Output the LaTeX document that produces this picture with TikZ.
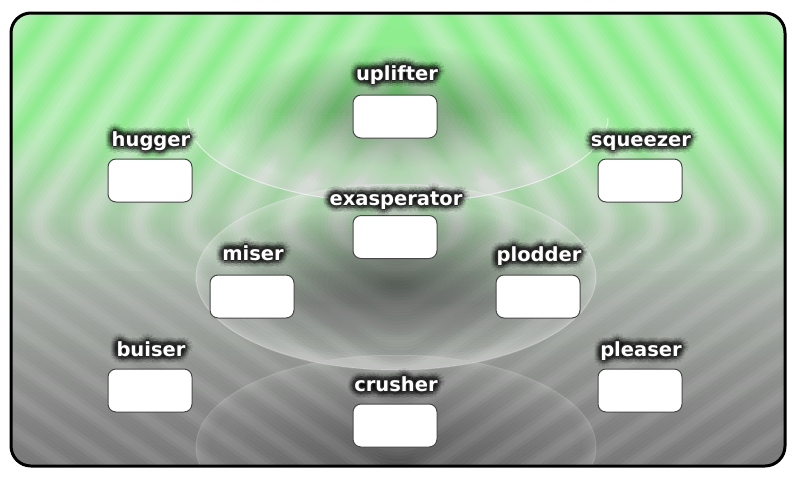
\documentclass[tikz,border=0pt]{standalone}
\usepackage{fontspec}
\newfontfamily\lblfont{DejaVu Sans}

\pgfdeclareverticalshading{bgshade}{100bp}{%
  rgb(0bp)=(0.22,0.22,0.22);
  rgb(15bp)=(0.31,0.31,0.31);
  rgb(30bp)=(0.45,0.45,0.45);
  rgb(44bp)=(0.60,0.63,0.60);
  rgb(53bp)=(0.66,0.80,0.66);
  rgb(63bp)=(0.57,0.92,0.57);
  rgb(100bp)=(0.54,0.96,0.54)}

% soft concentric chevron stripes, strength #1
\newcommand\softstripes[1]{%
  \foreach \a in {20,70,...,870}{%
    \foreach \w/\o in {36/0.08,29/0.09,22/0.10,15/0.11,8/0.11}{%
      \pgfmathsetmacro\opc{#1*\o}%
      \draw[stripe, line width=\w pt, opacity=\opc]
        (398-\a,230) -- (398,230-1.5*\a) -- (398+\a,230) -- (398,230+0.7*\a) -- cycle;
    }%
  }%
}
% smooth darkening toward the centre: cx, cy, rx, ry, opacity per step (30 steps)
\newcommand\darkell[5]{%
  \foreach \k in {1,...,30}{%
    \fill[black, opacity=#5] (#1,#2) ellipse [x radius={0.85*\k*#3pt/30}, y radius={0.85*\k*#4pt/30}];
  }%
}
% inner light rim: cx, cy, rx, ry, opacity per step
\newcommand\rimell[5]{%
  \begin{scope}
    \clip (#1,#2) ellipse [x radius=#3pt, y radius=#4pt];
    \foreach \w in {2,4,7,10,14,19,25}{%
      \draw[white, opacity=#5, line width=\w pt] (#1,#2) ellipse [x radius=#3pt, y radius=#4pt];
    }%
  \end{scope}
}
% gloss rising from the bottom: cx, cy, rx, ry, opacity per step, steps (3pt each)
\newcommand\glossell[6]{%
  \begin{scope}
    \clip (#1,#2) ellipse [x radius=#3pt, y radius=#4pt];
    \foreach \h in {1,...,#6}{%
      \fill[white, opacity=#5] (0,#2+#4-3*\h) rectangle (797,#2+#4+2);
    }%
  \end{scope}
}

\newcommand\glowlabel[4]{%
  \foreach \ang in {0,30,...,330}{%
    \foreach \r/\op in {7.5/0.09,5.5/0.12,3.5/0.16}{%
      \path (#2,#3) ++(\ang:\r) node[lbl, text=black, opacity=\op] {#4};
    }%
  }%
  \foreach \ang in {0,45,...,315}{%
    \path (#2,#3) ++(\ang:1.4) node[lbl, text=black!85] {#4};
  }%
  \node[lbl, text=white] (#1) at (#2,#3) {#4};
}

\begin{document}
\begin{tikzpicture}[x=1pt,y=-1pt,
  box/.style={draw=black!72, line width=1pt, fill=white, rounded corners=8pt,
    minimum width=84pt, minimum height=43pt, inner sep=0pt},
  lbl/.style={font=\lblfont\bfseries\fontsize{19.5}{23}\selectfont, anchor=base, inner sep=0pt},
  stripe/.style={white, line join=round, rounded corners=28pt}]
\useasboundingbox (0,0) rectangle (797,477);
\begin{scope}
  \clip[rounded corners=20pt] (11,13) rectangle (785,466);
  \shade[shading=bgshade] (11,13) rectangle (785,466);
  % stripes: soft everywhere, stronger in the upper (green) part
  \softstripes{0.5}
  \foreach \yb in {270,250,230,210}{%
    \begin{scope}
      \clip (0,0) rectangle (797,\yb);
      \softstripes{0.17}
    \end{scope}
  }
  % bottom ellipse
  \darkell{396}{447}{200}{92}{0.004}
  \rimell{396}{447}{200}{92}{0.025}
  \draw[white, opacity=0.12, line width=1pt] (396,447) ellipse [x radius=200pt, y radius=92pt];
  % middle ellipse
  \darkell{396}{282}{200}{93}{0.016}
  \rimell{396}{277}{200}{93}{0.045}
  \glossell{396}{277}{200}{93}{0.014}{22}
  \draw[white, opacity=0.25, line width=1pt] (396,277) ellipse [x radius=200pt, y radius=93pt];
  % top ellipse (gloss, open at the top)
  \darkell{398}{118}{210}{85}{0.01}
  \glossell{398}{118}{210}{85}{0.025}{30}
  \draw[white, opacity=0.6, line width=1pt] (188,118) arc[start angle=180, end angle=360, x radius=210pt, y radius=85pt];
\end{scope}
\draw[black, line width=3pt, rounded corners=20pt] (11,13) rectangle (785,466);

% boxes
\node[box] (uplifterbox)    at (395,116.5) {};
\node[box] (huggerbox)      at (150,180.5) {};
\node[box] (squeezerbox)    at (640,180.5) {};
\node[box] (exasperatorbox) at (395,237) {};
\node[box] (miserbox)       at (252,296.5) {};
\node[box] (plodderbox)     at (538,296.5) {};
\node[box] (buiserbox)      at (150,390.5) {};
\node[box] (pleaserbox)     at (640,390.5) {};
\node[box] (crusherbox)     at (395,425.5) {};

% labels
\glowlabel{uplifter}{397}{80}{uplifter}
\glowlabel{hugger}{151}{146}{hugger}
\glowlabel{squeezer}{641}{146}{squeezer}
\glowlabel{exasperator}{396}{205}{exasperator}
\glowlabel{miser}{253}{260}{miser}
\glowlabel{plodder}{539}{261}{plodder}
\glowlabel{buiser}{151}{356}{buiser}
\glowlabel{pleaser}{641}{356}{pleaser}
\glowlabel{crusher}{396}{391}{crusher}
\end{tikzpicture}
\end{document}
